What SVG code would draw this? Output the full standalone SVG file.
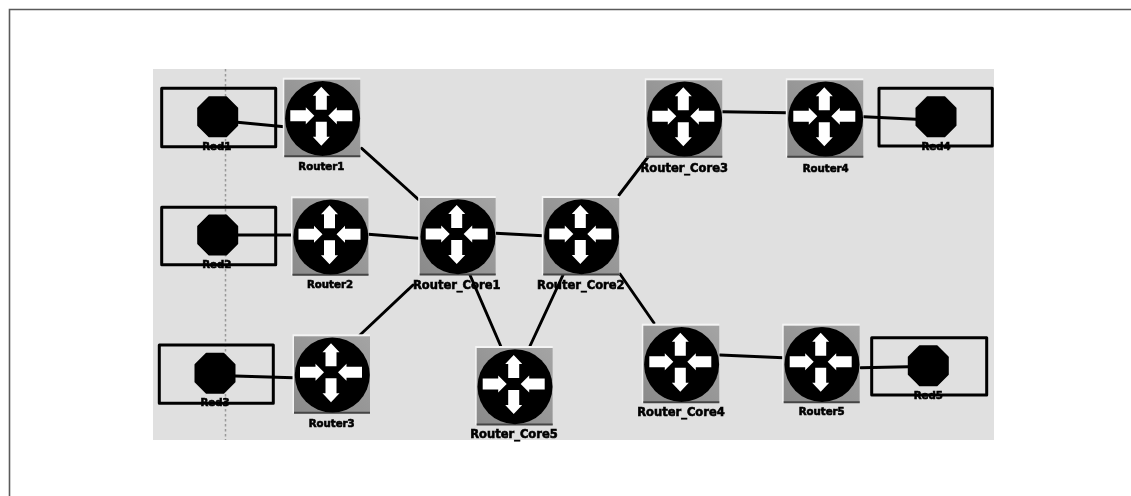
<svg xmlns="http://www.w3.org/2000/svg" width="1131" height="496" viewBox="0 0 1131 496">
<style>
.frame{fill:none;stroke:#5a5a5a;stroke-width:1.6}
.link{stroke:#000;stroke-width:2.9;fill:none;stroke-linecap:round}
.box{fill:none;stroke:#000;stroke-width:3;stroke-linejoin:round}
.lbl{font-family:"DejaVu Sans",sans-serif;font-weight:700;fill:#000;stroke:#000;stroke-width:0.6;text-anchor:middle;dominant-baseline:central;font-size:10.2px}
.core{font-size:11.5px}
</style>
<defs>
<linearGradient id="sq" x1="1" y1="0" x2="0" y2="1"><stop offset="0" stop-color="#a4a4a4"/><stop offset="1" stop-color="#8a8a8a"/></linearGradient>
<filter id="soft" x="0" y="0" width="100%" height="100%"><feGaussianBlur stdDeviation="0.7"/></filter>
<g id="router">
<rect x="-38.5" y="-38" width="77.5" height="79" fill="#f4f4f4"/>
<rect x="-37" y="-36" width="76" height="77" fill="url(#sq)"/>
<path d="M-37 40.5H39" stroke="#444" stroke-width="2"/>
<circle cx="1.3" cy="2.7" r="37.500" fill="#000"/>
<path fill="#fff" d="M0-29 8.500-20H5.500V-6H-5.500V-20H-8.500Z"/>
<path fill="#fff" d="M0 30 8.500 21H5.500V6H-5.500V21H-8.500Z"/>
<path fill="#fff" d="M-7 0-15.500 8.500V5.500H-31V-5.500H-15.500V-8.500Z"/>
<path fill="#fff" d="M7 0 15.500 8.500V5.500H31V-5.500H15.500V-8.500Z"/>
</g>
<polygon id="oct" fill="#000" stroke="#000" stroke-width="2" stroke-linejoin="round" points="-8.500,-19.500 8.500,-19.500 19.500,-8.500 19.500,8.500 8.500,19.500 -8.500,19.500 -19.500,8.500 -19.500,-8.500"/>
</defs>
<rect width="1131" height="496" fill="#fff"/>
<path class="frame" d="M9.500 496V9.500H1131"/>
<g filter="url(#soft)">
<rect id="panel" x="153" y="69" width="841" height="371" fill="#e0e0e0"/>
<path d="M225.500 69V440" stroke="#999" stroke-width="1.500" stroke-dasharray="2.500 2.500"/>
<g id="connectors">
<path class="link" d="M237.300 122.300 284.300 126.700"/>
<path class="link" d="M361.700 148.300 418.300 199.300"/>
<path class="link" d="M237 235H291.700"/>
<path class="link" d="M368.300 234.300 418.300 238.300"/>
<path class="link" d="M360 335 413 285"/>
<path class="link" d="M235 376 293.300 377.700"/>
<path class="link" d="M496 233.300 542.700 235.700"/>
<path class="link" d="M470 275 500.700 346"/>
<path class="link" d="M530 346 563 275"/>
<path class="link" d="M620 274 654 323"/>
<path class="link" d="M619 195 648 157"/>
<path class="link" d="M721.700 111.700 786.700 112.700"/>
<path class="link" d="M864 116.700 916 119.300"/>
<path class="link" d="M720 355 783.300 357.700"/>
<path class="link" d="M860.700 367.700 908.300 366.700"/>
</g>
<g id="Red1"><rect class="box" x="161.700" y="88.300" width="114" height="58.400"/><use href="#oct" x="217.700" y="116.700"/><text class="lbl" x="216.700" y="146.700">Red1</text></g>
<g id="Red2"><rect class="box" x="161.700" y="207.300" width="114" height="57.400"/><use href="#oct" x="217.700" y="235"/><text class="lbl" x="216.700" y="264.700">Red2</text></g>
<g id="Red3"><rect class="box" x="159.300" y="345" width="114" height="58.300"/><use href="#oct" x="215" y="373.300"/><text class="lbl" x="215" y="402.700">Red3</text></g>
<g id="Red4"><rect class="box" x="879" y="88.300" width="113.300" height="57.700"/><use href="#oct" x="936" y="116.700"/><text class="lbl" x="936" y="146.700">Red4</text></g>
<g id="Red5"><rect class="box" x="871.700" y="337.700" width="115" height="57.300"/><use href="#oct" x="928.300" y="365.700"/><text class="lbl" x="928.300" y="395.700">Red5</text></g>
<g id="Router1"><use href="#router" x="321.300" y="115.700"/><text class="lbl" x="321.300" y="166.700">Router1</text></g>
<g id="Router2"><use href="#router" x="329.500" y="234.300"/><text class="lbl" x="330" y="284.300">Router2</text></g>
<g id="Router3"><use href="#router" x="331" y="372.300"/><text class="lbl" x="331.700" y="423.300">Router3</text></g>
<g id="Router4"><use href="#router" x="824.300" y="116.300"/><text class="lbl" x="825.700" y="168.300">Router4</text></g>
<g id="Router5"><use href="#router" x="820.700" y="361.700"/><text class="lbl" x="821.700" y="411.700">Router5</text></g>
<g id="Router_Core1"><use href="#router" x="456.700" y="234"/><text class="lbl core" x="456.700" y="285">Router_Core1</text></g>
<g id="Router_Core2"><use href="#router" x="580.300" y="234"/><text class="lbl core" x="580.800" y="285">Router_Core2</text></g>
<g id="Router_Core3"><use href="#router" x="683.300" y="116.300"/><text class="lbl core" x="684.200" y="168.300">Router_Core3</text></g>
<g id="Router_Core4"><use href="#router" x="680.300" y="361.700"/><text class="lbl core" x="681" y="411.700">Router_Core4</text></g>
<g id="Router_Core5"><use href="#router" x="513.700" y="384"/><text class="lbl core" x="514" y="434">Router_Core5</text></g>
</g>
</svg>
